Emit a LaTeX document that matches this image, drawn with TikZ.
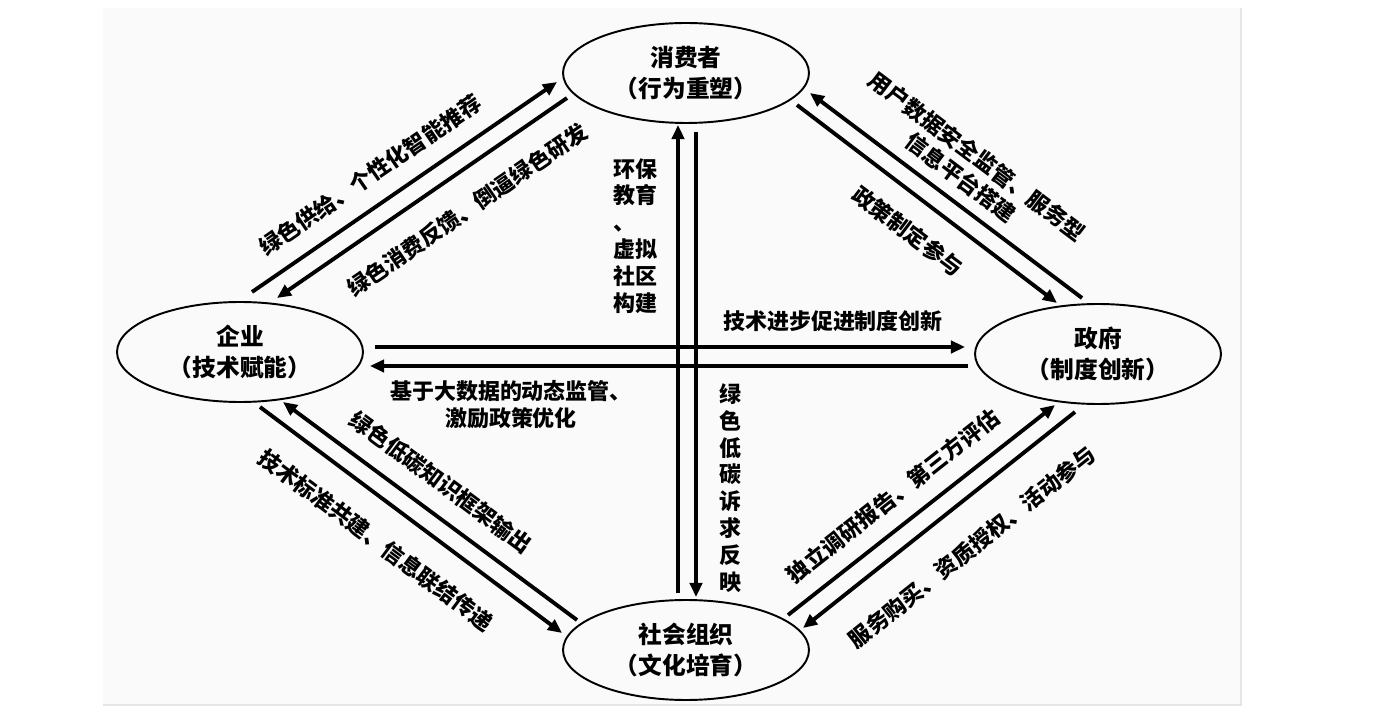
\documentclass[tikz,border=0pt]{standalone}
\usepackage{fontspec}
\setmainfont{Noto Sans CJK SC}
\usetikzlibrary{shapes.geometric, arrows.meta, calc}

\begin{document}
\begin{tikzpicture} [
        x = 0.02cm, y = 0.02cm,
        party/.style = { draw, ellipse, line width = 1.1pt, minimum width = 4.92cm, minimum height = 2cm,
            align = center, font = \fontsize{13.5}{17.5}\selectfont\bfseries },
        link/.style = { -{Triangle[length = 8pt, width = 7pt]}, line width = 2.2pt },
        lbl/.style = { inner sep = 0, align = center, font = \fontsize{12.5}{15.3}\selectfont\bfseries }
        ]
        \useasboundingbox (0,0) rectangle (1391,720);
        \fill [black!2] (103,15) rectangle (1241,712);
        \draw [black!10, line width = 1pt] (103,15) -- (1241,15) -- (1241,712);

        % the four actors
        \node [party] (C) at (686,647) {消费者\\（行为重塑）};
        \node [party] (E) at (240,368) {企业\\（技术赋能）};
        \node [party] (G) at (1098,366) {政府\\（制度创新）};
        \node [party] (S) at (686,70) {社会组织\\（文化培育）};

        % enterprise - consumer
        \draw [link] ($(E)+(12,60)$) -- ($(C)+(-129,-9)$);
        \draw [link] ($(C)+(-119,-25)$) -- ($(E)+(37,54)$);
        \node [lbl, rotate = 34.5] (l1) at (370,545) {绿色供给、个性化智能推荐};
        \node [lbl, rotate = 34.5] (l2) at (467,510) {绿色消费反馈、倒逼绿色研发};

        % government - consumer
        \draw [link] ($(G)+(-16,56)$) -- ($(C)+(124,-20)$);
        \draw [link] ($(C)+(111,-32)$) -- ($(G)+(-41,51)$);
        \node [lbl, rotate = -37] (l3) at (969,553) {用户数据安全监管、服务型\\信息平台搭建};
        \node [lbl, rotate = -37] (l4) at (908,489) {政策制定参与};

        % enterprise - government
        \draw [link] ($(E)+(135,5)$) -- ($(G)+(-133,7)$);
        \draw [link] ($(G)+(-130,-12)$) -- ($(E)+(130,-14)$);
        \node [lbl] (l5) at (833,399) {技术进步促进制度创新};
        \node [lbl] (l6) at (511,315) {基于大数据的动态监管、\\激励政策优化};

        % social organisation - consumer
        \draw [link] ($(S)+(-8,57)$) -- ($(C)+(-8,-52)$);
        \draw [link] ($(C)+(10,-59)$) -- ($(S)+(10,53)$);
        \node [lbl, align = left] (l7) at (635,484) {环保\\教育\\、\\虚拟\\社区\\构建};
        \node [lbl] (l8) at (730,232) {绿\\色\\低\\碳\\诉\\求\\反\\映};

        % enterprise - social organisation
        \draw [link] ($(E)+(20,-55)$) -- ($(S)+(-124,17)$);
        \draw [link] ($(S)+(-109,30)$) -- ($(E)+(43,-50)$);
        \node [lbl, rotate = -36.8] (l9) at (376,180) {技术标准共建、信息联结传递};
        \node [lbl, rotate = -36.6] (l10) at (441,238) {绿色低碳知识框架输出};

        % social organisation - government
        \draw [link] ($(S)+(102,35)$) -- ($(G)+(-43,-51)$);
        \draw [link] ($(G)+(-23,-58)$) -- ($(S)+(117,22)$);
        \node [lbl, rotate = 38.3] (l11) at (893,224) {独立调研报告、第三方评估};
        \node [lbl, rotate = 38.5] (l12) at (972,173) {服务购买、资质授权、活动参与};
\end{tikzpicture}
\end{document}
